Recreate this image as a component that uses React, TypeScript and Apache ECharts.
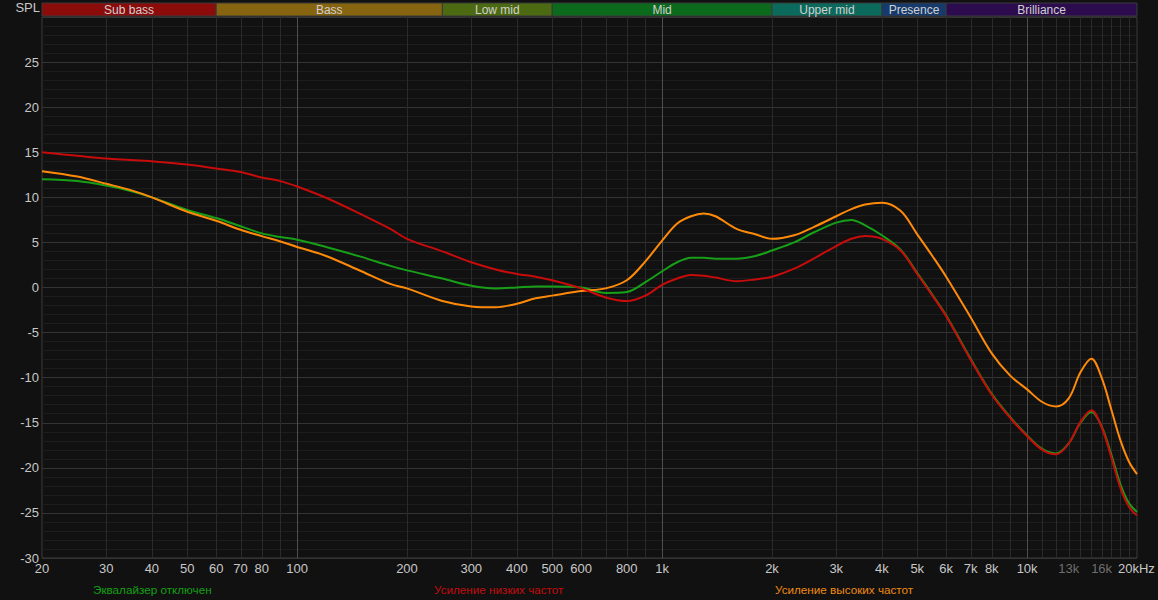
import React, { useEffect, useRef } from 'react';
import * as echarts from 'echarts';

// Frequencies (Hz) at which the curves were read
const freqs = [20, 25, 30, 35, 40, 50, 60, 70, 80, 90, 100, 120, 150, 180, 200, 250, 300, 350, 400, 450, 500, 600, 700, 800, 900, 1000, 1100, 1200, 1300, 1400, 1600, 1800, 2000, 2300, 2600, 3000, 3300, 3600, 4000, 4500, 5000, 5500, 6000, 7000, 8000, 9000, 10000, 11000, 12000, 13000, 14000, 15000, 16000, 17000, 18000, 19000, 20000];

// Эквалайзер отключен
const flatEq = [12.0, 11.8, 11.3, 10.7, 10.0, 8.6, 7.7, 6.8, 6.0, 5.6, 5.3, 4.5, 3.4, 2.4, 1.9, 1.0, 0.2, -0.1, 0.0, 0.1, 0.1, 0.0, -0.6, -0.5, 0.6, 1.8, 2.8, 3.3, 3.3, 3.2, 3.2, 3.5, 4.1, 5.0, 6.1, 7.2, 7.5, 6.9, 5.8, 4.2, 1.6, -0.8, -3.1, -7.9, -11.8, -14.4, -16.4, -17.9, -18.4, -17.3, -15.0, -13.8, -15.4, -18.5, -21.8, -23.9, -24.9];

// Усиление низких частот
const bassBoost = [15.0, 14.6, 14.3, 14.15, 14.0, 13.65, 13.2, 12.8, 12.2, 11.8, 11.2, 9.95, 8.1, 6.5, 5.4, 4.0, 2.8, 2.0, 1.5, 1.2, 0.8, -0.1, -1.1, -1.5, -0.9, 0.3, 1.0, 1.4, 1.3, 1.1, 0.7, 0.9, 1.2, 2.1, 3.2, 4.6, 5.4, 5.7, 5.4, 4.1, 1.5, -0.9, -3.2, -8.0, -11.9, -14.5, -16.5, -18.0, -18.5, -17.3, -14.9, -13.6, -15.5, -18.8, -22.2, -24.3, -25.3];

// Усиление высоких частот
const trebleBoost = [12.9, 12.3, 11.5, 10.8, 10.0, 8.4, 7.4, 6.4, 5.7, 5.1, 4.5, 3.5, 1.8, 0.4, -0.1, -1.5, -2.1, -2.2, -1.8, -1.2, -0.9, -0.4, -0.1, 0.8, 2.9, 5.2, 7.1, 7.9, 8.2, 7.9, 6.5, 5.9, 5.4, 5.8, 6.7, 7.9, 8.7, 9.2, 9.4, 8.5, 5.9, 3.5, 1.2, -3.3, -7.3, -9.8, -11.3, -12.7, -13.2, -12.3, -9.4, -7.9, -10.0, -13.5, -16.9, -19.3, -20.7];

// Frequency bands
const bandNames = ['Sub bass', 'Bass', 'Low mid', 'Mid', 'Upper mid', 'Presence', 'Brilliance'];
const bandEdges = [20, 60, 250, 500, 2000, 4000, 6000, 20000];
const bandColors = ['#8c0b0b', '#87640f', '#4b6a12', '#0b6a1c', '#0c6a5c', '#173a6c', '#2c0c4e'];

// Vertical grid lines
const gridFreqs = [30, 40, 50, 60, 70, 80, 90, 100, 200, 300, 400, 500, 600, 700, 800, 900, 1000, 2000, 3000, 4000, 5000, 6000, 7000, 8000, 9000, 10000, 11000, 12000, 13000, 14000, 15000, 16000, 17000, 18000, 19000];
const majorGridFreqs = [100, 1000, 10000];

// X tick labels
const tickFreqs = [20, 30, 40, 50, 60, 70, 80, 100, 200, 300, 400, 500, 600, 800, 1000, 2000, 3000, 4000, 5000, 6000, 7000, 8000, 10000, 13000, 16000, 20000];
const tickLabels = ['20', '30', '40', '50', '60', '70', '80', '100', '200', '300', '400', '500', '600', '800', '1k', '2k', '3k', '4k', '5k', '6k', '7k', '8k', '10k', '13k', '16k', '20kHz'];
const dimTicks = ['13k', '16k'];

const seriesNames = ['Эквалайзер отключен', 'Усиление низких частот', 'Усиление высоких частот'];
const seriesColors = ['#17a017', '#c80b0b', '#ff8a0a'];
const legendColors = ['#13a013', '#c40c0c', '#f08a10'];

const FONT = '"Liberation Sans", Arial, sans-serif';

export default function App() {
  const ref = useRef<HTMLDivElement>(null);

  useEffect(() => {
    if (!ref.current) return;
    const chart = echarts.init(ref.current, null, { renderer: 'svg' });

    const curve = (vals: number[], i: number, z: number) => ({
      name: seriesNames[i],
      type: 'line',
      xAxisIndex: 0,
      yAxisIndex: 0,
      data: freqs.map((f, k) => [f, vals[k]]),
      smooth: 0.35,
      showSymbol: false,
      symbol: 'none',
      lineStyle: { color: seriesColors[i], width: 2 },
      z,
      silent: true,
    });

    const option: any = {
      animation: false,
      backgroundColor: '#111111',
      textStyle: { fontFamily: FONT },
      grid: [
        { left: 42, right: 21, top: 17, bottom: 42, show: true, borderColor: '#3c3c3c', borderWidth: 1, backgroundColor: 'transparent' },
        { left: 42, right: 21, top: 3, height: 13 },
      ],
      xAxis: [
        {
          type: 'log', logBase: 10, min: 20, max: 20000, gridIndex: 0,
          axisLine: { show: false }, axisTick: { show: false }, axisLabel: { show: false }, splitLine: { show: false },
        },
        {
          type: 'log', logBase: 10, min: 20, max: 20000, gridIndex: 1, show: false,
        },
      ],
      yAxis: [
        {
          type: 'value', min: -30, max: 30, interval: 5, gridIndex: 0,
          axisLine: { show: false }, axisTick: { show: false },
          axisLabel: {
            color: '#c8c8c8', fontSize: 13, fontFamily: FONT, margin: 3,
            formatter: (v: number) => (v === 30 ? '' : String(v)),
          },
          splitLine: { show: true, lineStyle: { color: '#333333', width: 1 } },
          minorTick: { show: false, splitNumber: 5 },
          minorSplitLine: { show: true, lineStyle: { color: '#1d1d1d', width: 1 } },
        },
        { type: 'value', min: 0, max: 1, gridIndex: 1, show: false },
      ],
      graphic: [
        { type: 'text', right: 1158 - 40, top: 1, style: { text: 'SPL', fill: '#c8c8c8', font: `13px ${FONT}`, textAlign: 'right' } },
        ...seriesNames.map((n, i) => ({
          type: 'text', left: 93 + i * 341, top: 583,
          style: { text: n, fill: legendColors[i], font: `11.7px ${FONT}` },
        })),
      ],
      series: [
        {
          type: 'custom', name: 'vgrid', xAxisIndex: 0, yAxisIndex: 0, silent: true, z: 1, clip: false,
          data: gridFreqs.map((f) => [f]),
          renderItem: (_p: any, api: any) => {
            const f = api.value(0);
            const top = api.coord([f, 30]);
            const bot = api.coord([f, -30]);
            const x = Math.round(top[0]) + 0.5;
            const major = majorGridFreqs.indexOf(f) >= 0;
            return {
              type: 'line',
              shape: { x1: x, y1: top[1], x2: x, y2: bot[1] },
              style: { stroke: major ? '#4e4e4e' : '#2a2a2a', lineWidth: 1 },
            };
          },
        },
        {
          type: 'custom', name: 'xticks', xAxisIndex: 0, yAxisIndex: 0, silent: true, z: 2, clip: false,
          data: tickFreqs.map((f) => [f]),
          renderItem: (p: any, api: any) => {
            const f = api.value(0);
            const pt = api.coord([f, -30]);
            const label = tickLabels[p.dataIndex];
            const isLast = p.dataIndex === tickFreqs.length - 1;
            return {
              type: 'text',
              style: {
                text: label,
                x: isLast ? pt[0] - 19 : pt[0],
                y: pt[1] + 10,
                align: isLast ? 'left' : 'center',
                verticalAlign: 'middle',
                fill: dimTicks.indexOf(label) >= 0 ? '#6e6e6e' : '#c8c8c8',
                fontSize: 13,
                fontFamily: FONT,
              },
            };
          },
        },
        {
          type: 'custom', name: 'bands', xAxisIndex: 1, yAxisIndex: 1, silent: true, z: 2, clip: false,
          data: bandNames.map((_n, i) => [bandEdges[i], bandEdges[i + 1]]),
          renderItem: (p: any, api: any) => {
            const a = api.coord([api.value(0), 1]);
            const b = api.coord([api.value(1), 0]);
            const i = p.dataIndex;
            return {
              type: 'group',
              children: [
                {
                  type: 'rect',
                  shape: { x: a[0], y: a[1], width: b[0] - a[0], height: b[1] - a[1] },
                  style: { fill: bandColors[i], stroke: '#3a3a3a', lineWidth: 1 },
                },
                {
                  type: 'text',
                  style: {
                    text: bandNames[i],
                    x: (a[0] + b[0]) / 2,
                    y: (a[1] + b[1]) / 2 + 0.5,
                    align: 'center',
                    verticalAlign: 'middle',
                    fill: '#d0d0d0',
                    fontSize: 12,
                    fontFamily: FONT,
                  },
                },
              ],
            };
          },
        },
        curve(flatEq, 0, 3),
        curve(trebleBoost, 2, 4),
        curve(bassBoost, 1, 5),
      ],
    };

    chart.setOption(option);
    return () => chart.dispose();
  }, []);

  return <div ref={ref} style={{ width: 1158, height: 600, position: 'absolute', left: 0, top: 0 }} />;
}
